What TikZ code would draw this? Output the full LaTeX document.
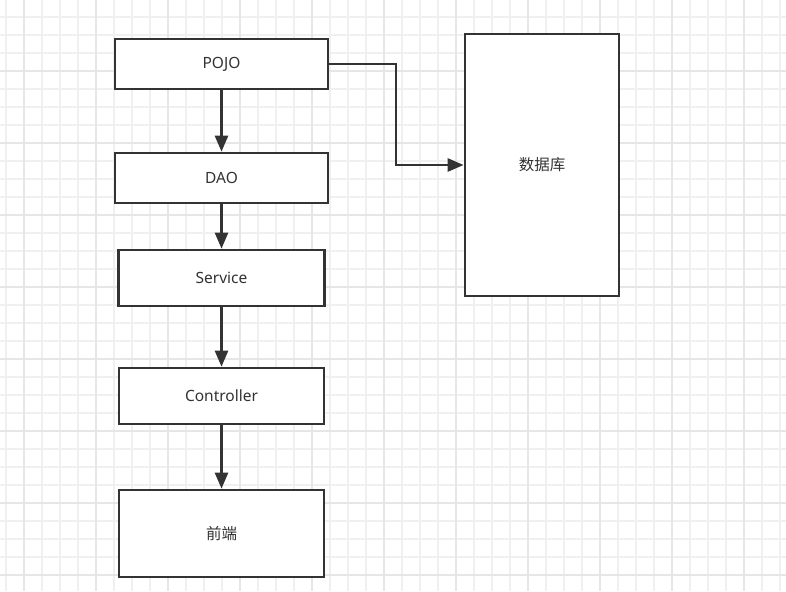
\documentclass[tikz,border=0pt]{standalone}
\usepackage{fontspec}
\setmainfont{Noto Sans}
\newfontfamily\cjk{Noto Sans CJK SC}
\usetikzlibrary{arrows.meta}
\definecolor{linec}{HTML}{333333}
\definecolor{textc}{HTML}{333333}
\definecolor{minorc}{HTML}{F0F0F0}
\definecolor{majorc}{HTML}{E6E6E6}

\tikzset{
  layerbox/.style={draw=linec, line width=2.7pt, fill=white, text=textc,
    inner sep=0pt, font=\fontsize{15.5}{18}\selectfont},
  flow/.style={draw=linec, line width=2.6pt,
    -{Triangle[length=16pt,width=13pt]}},
}

\begin{document}
\begin{tikzpicture}[x=1pt,y=-1pt]
  \useasboundingbox (0,0) rectangle (786,591);
  \fill[white] (0,0) rectangle (786,591);

  % background grid
  \foreach \gx in {6,24,...,780}
    \draw[minorc, line width=1.2pt] (\gx,0) -- (\gx,591);
  \foreach \gy in {17,35,...,580}
    \draw[minorc, line width=1.2pt] (0,\gy) -- (786,\gy);
  \foreach \gx in {24,96,...,780}
    \draw[majorc, line width=1.4pt] (\gx,0) -- (\gx,591);
  \foreach \gy in {71,143,...,580}
    \draw[majorc, line width=1.4pt] (0,\gy) -- (786,\gy);

  \node[layerbox, minimum width=213pt, minimum height=50pt] (pojo) at (221.5,64) {POJO};
  \node[layerbox, minimum width=213pt, minimum height=50pt] (dao) at (221.5,178) {DAO};
  \node[layerbox, minimum width=206pt, minimum height=56pt] (service) at (221.5,278) {Service};
  \node[layerbox, minimum width=205pt, minimum height=56pt] (controller) at (221.5,396) {Controller};
  \node[layerbox, minimum width=205pt, minimum height=87pt] (front) at (221.5,533.5) {\cjk 前端};
  \node[layerbox, minimum width=154pt, minimum height=262pt] (db) at (542,165) {\cjk 数据库};

  \draw[flow] (pojo) -- (dao);
  \draw[flow] (dao) -- (service);
  \draw[flow] (service) -- (controller);
  \draw[flow] (controller) -- (front);
  \draw[flow] (pojo) -- (396,64) |- (db);

\end{tikzpicture}
\end{document}
